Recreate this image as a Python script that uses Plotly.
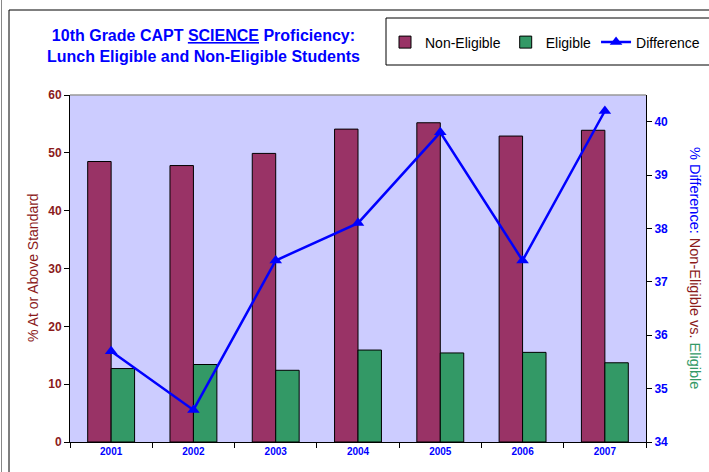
import plotly.graph_objects as go

# data
years = ["2001", "2002", "2003", "2004", "2005", "2006", "2007"]
non_eligible = [48.5, 47.8, 49.9, 54.1, 55.2, 52.9, 53.9]
eligible = [12.7, 13.4, 12.4, 15.9, 15.4, 15.5, 13.7]
difference = [35.7, 34.6, 37.4, 38.1, 39.8, 37.4, 40.2]

W, H = 709, 472
L, R, T, B = 70, 63, 95, 30
pw, ph = W - L - R, H - T - B


# pixel -> paper helpers for decorations
def px(x):
    return (x - L) / pw


def py(y):
    return (H - B - y) / ph


FONT = "Arial, Liberation Sans, sans-serif"
MAROON = "#993366"
GREEN = "#339966"
BLUE = "#0000FF"
DARKRED = "#8B1A1A"

fig = go.Figure()

fig.add_trace(go.Bar(
    x=years, y=non_eligible, name="Non-Eligible",
    marker=dict(color=MAROON, line=dict(color="black", width=1)),
))
fig.add_trace(go.Bar(
    x=years, y=eligible, name="Eligible",
    marker=dict(color=GREEN, line=dict(color="black", width=1)),
))
fig.add_trace(go.Scatter(
    x=years, y=difference, name="Difference", yaxis="y2",
    mode="lines+markers",
    line=dict(color=BLUE, width=2.5),
    marker=dict(symbol="triangle-up", size=11, color=BLUE),
))

fig.update_layout(
    width=W, height=H,
    margin=dict(l=L, r=R, t=T, b=B, autoexpand=False),
    paper_bgcolor="white",
    plot_bgcolor="#CCCCFF",
    font=dict(family=FONT),
    barmode="group",
    bargap=0.43,
    bargroupgap=0,
    showlegend=True,
    legend=dict(
        orientation="h", xref="container", yref="container",
        x=385 / W, xanchor="left", y=1 - 42.5 / H, yanchor="middle",
        font=dict(size=14, color="black"), bgcolor="rgba(0,0,0,0)",
        traceorder="normal",
    ),
    xaxis=dict(
        type="category", showgrid=False, showline=True, linecolor="black",
        linewidth=1, ticks="outside", tickson="boundaries", ticklen=5,
        tickcolor="black",
        tickfont=dict(size=10, color=BLUE, family=FONT, weight="bold"),
    ),
    yaxis=dict(
        range=[0, 60], dtick=10, showgrid=False, showline=True,
        linecolor="black", linewidth=1, ticks="outside", ticklen=5,
        tickcolor="black", zeroline=False,
        tickfont=dict(size=12, color=DARKRED, family=FONT, weight="bold"),
    ),
    yaxis2=dict(
        range=[34, 40.5], dtick=1, overlaying="y", side="right",
        showgrid=False, showline=True, linecolor="black", linewidth=1,
        ticks="outside", ticklen=5, tickcolor="black", zeroline=False,
        tickfont=dict(size=12, color=BLUE, family=FONT, weight="bold"),
    ),
)

# title
fig.add_annotation(
    xref="paper", yref="paper", x=px(203), y=py(45.5),
    text="10th Grade CAPT <u>SCIENCE</u> Proficiency:<br>Lunch Eligible and Non-Eligible Students",
    showarrow=False, xanchor="center", yanchor="middle",
    font=dict(size=16, color=BLUE, family=FONT, weight="bold"),
)

# axis titles
fig.add_annotation(
    xref="paper", yref="paper", x=px(33), y=py(268), textangle=-90,
    xanchor="center", yanchor="middle",
    text="% At or Above Standard", showarrow=False,
    font=dict(size=14, color=DARKRED, family=FONT),
)
fig.add_annotation(
    xref="paper", yref="paper", x=px(695), y=py(268), textangle=90,
    xanchor="center", yanchor="middle",
    text=("<span style='color:%s'>%% Difference: </span>"
          "<span style='color:%s'>Non-Eligible vs. </span>"
          "<span style='color:%s'>Eligible</span>") % (BLUE, DARKRED, GREEN),
    showarrow=False, font=dict(size=14.5, family=FONT),
)

# gray top edge of plot area
fig.add_shape(type="line", xref="paper", yref="paper", x0=0, x1=1, y0=1, y1=1,
              line=dict(color="#999999", width=1.5))
# legend box
fig.add_shape(type="rect", xref="paper", yref="paper",
              x0=px(386), x1=px(730), y0=py(65), y1=py(18),
              line=dict(color="black", width=1))
# outer chart border
fig.add_shape(type="rect", xref="paper", yref="paper",
              x0=px(9), x1=px(740), y0=py(500), y1=py(10),
              line=dict(color="black", width=1))
fig.add_shape(type="line", xref="paper", yref="paper",
              x0=px(1.5), x1=px(1.5), y0=py(500), y1=py(0),
              line=dict(color="#888888", width=1))

fig.write_html("out.html", config={"displayModeBar": False},
               post_script="document.body.style.margin='0px';")
